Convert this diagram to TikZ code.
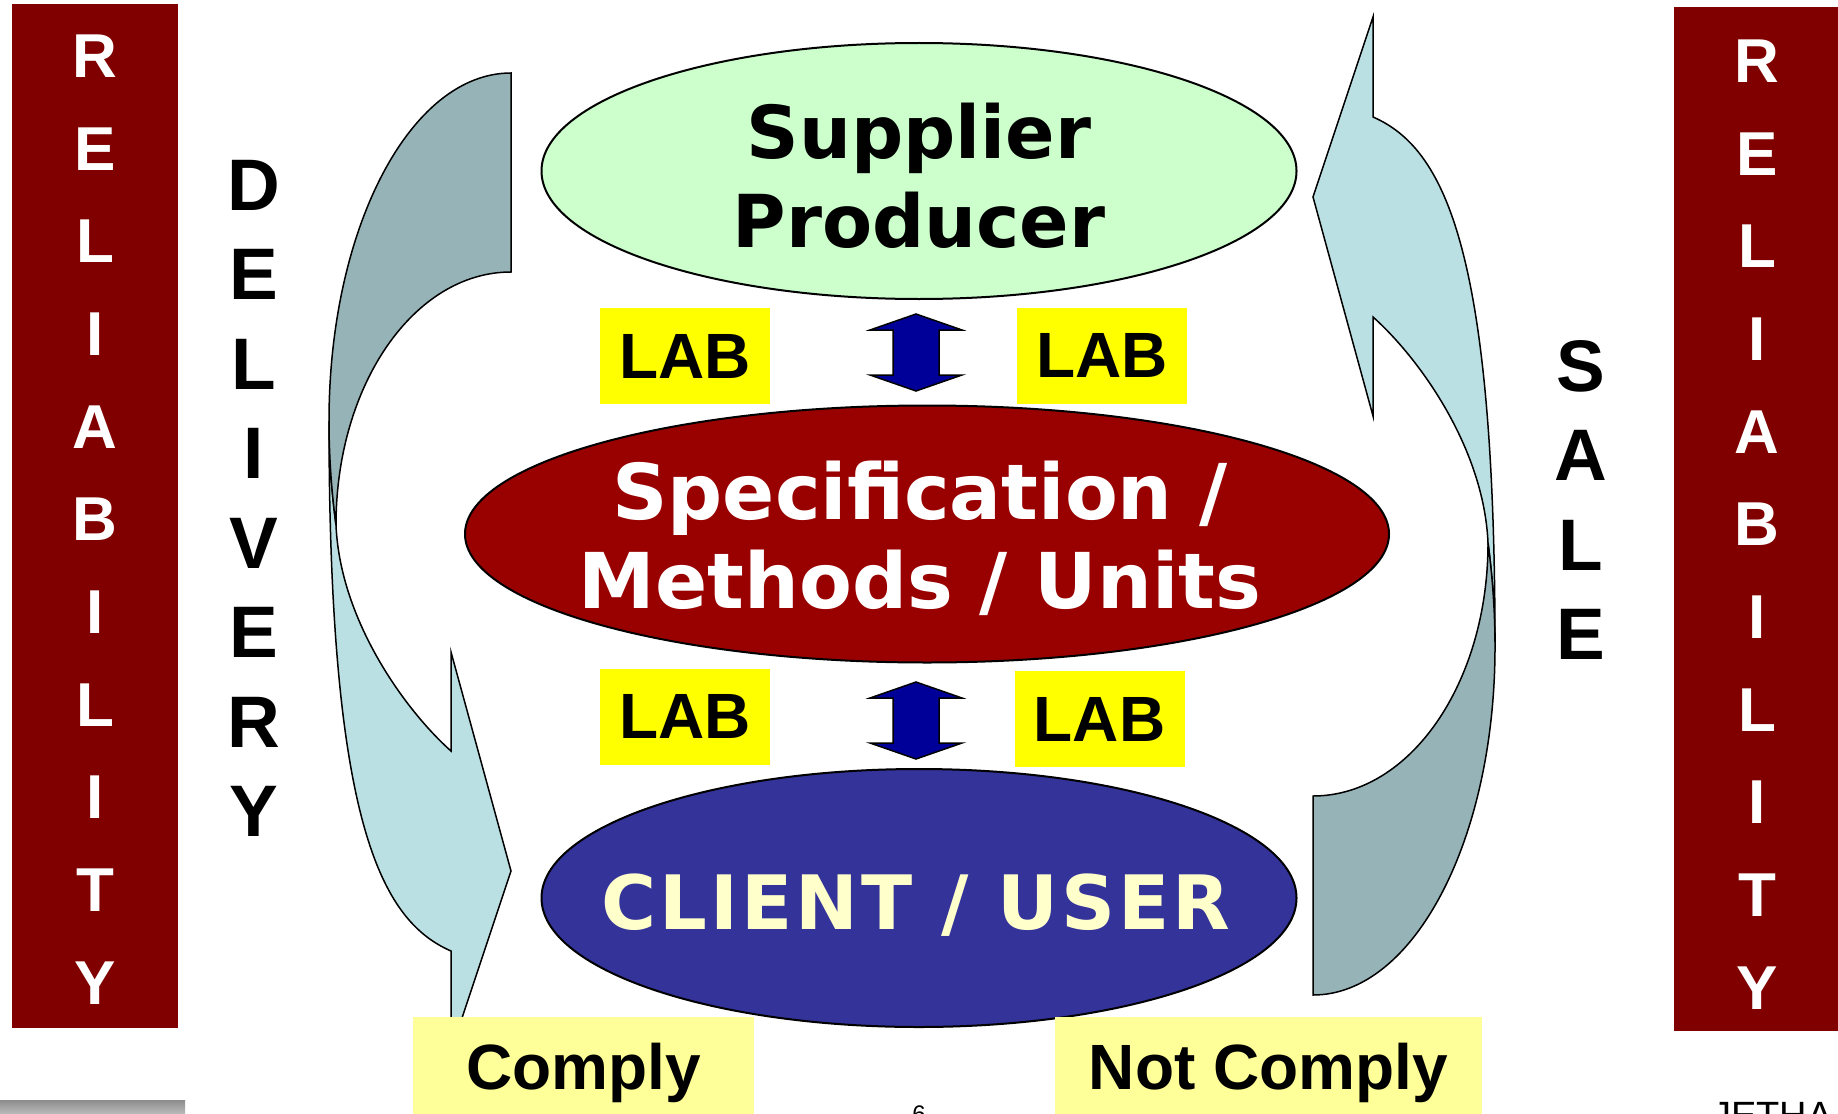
\documentclass[tikz,border=0pt]{standalone}
\usepackage{fontspec}
\setmainfont{Liberation Sans}
\newfontfamily\dvfont{DejaVu Sans}
\newfontfamily\dvspaced{DejaVu Sans}[LetterSpace=4]
\usetikzlibrary{shapes.geometric}
\definecolor{barred}{HTML}{800000}
\definecolor{specred}{HTML}{990000}
\definecolor{supgreen}{HTML}{CCFFCC}
\definecolor{clientblue}{HTML}{333399}
\definecolor{cream}{HTML}{FFFFCC}
\definecolor{labyellow}{HTML}{FFFF00}
\definecolor{complyyellow}{HTML}{FFFF99}
\definecolor{arrowblue}{HTML}{000099}
\definecolor{darkteal}{HTML}{96B3B7}
\definecolor{lightteal}{HTML}{BAE0E3}
\newcommand\cvarrowparts{%
  \draw[lightpart] (329,421) .. controls (329,820) and (380,920) .. (451,951)
    -- (451,1051) -- (511,871) -- (451,652) -- (451,751)
    .. controls (405,710) and (340,620) .. (336,525)
    .. controls (332,495) and (329,460) .. (329,421) -- cycle;
  \draw[darkpart] (511,73) .. controls (410,73) and (329,229) .. (329,421)
    .. controls (329,460) and (332,495) .. (336,525)
    .. controls (336,385) and (414,272) .. (511,272) -- cycle;
}
\newcommand\dblarrowshape{%
  \draw[dblarrow] (916,314) -- (962,330) -- (939,330) -- (939,375) -- (962,375)
    -- (916,391) -- (870,375) -- (893,375) -- (893,330) -- (870,330) -- cycle;
}
\begin{document}
\begin{tikzpicture}[x=1pt,y=-1pt,
  relletter/.style={font=\bfseries\fontsize{62}{62}\selectfont, text=white, inner sep=0pt},
  vletter/.style={font=\bfseries\fontsize{73}{73}\selectfont, text=black, inner sep=0pt},
  oval/.style={ellipse, draw=black, line width=2pt, inner sep=0pt},
  ovaltext/.style={font=\dvfont\bfseries\fontsize{77}{77}\selectfont, anchor=base, inner sep=0pt},
  labbox/.style={fill=labyellow, minimum width=170pt, minimum height=96pt, inner sep=0pt, font=\bfseries\fontsize{64}{64}\selectfont},
  complybox/.style={fill=complyyellow, minimum height=98pt, inner sep=0pt, text depth=0pt, font=\bfseries\fontsize{64}{64}\selectfont},
  lightpart/.style={fill=lightteal, draw=black, line width=1.5pt, line join=miter},
  darkpart/.style={fill=darkteal, draw=black, line width=1.5pt, line join=miter},
  dblarrow/.style={fill=arrowblue, draw=black, line width=1.5pt, line join=miter}
]
\useasboundingbox (0,0) rectangle (1838,1113);
\fill[white] (0,0) rectangle (1838,1113);

% side bars
\fill[barred] (12,4) rectangle (178,1028);
\fill[barred] (1674,7) rectangle (1838,1031);
\foreach \ch [count=\i from 0] in {R,E,L,I,A,B,I,L,I,T,Y}
  \node[relletter] (relL\i) at (95,56+92.7*\i) {\ch};
\foreach \ch [count=\i from 0] in {R,E,L,I,A,B,I,L,I,T,Y}
  \node[relletter] (relR\i) at (1757,61+92.7*\i) {\ch};

% vertical words
\foreach \ch [count=\i from 0] in {D,E,L,I,V,E,R,Y}
  \node[vletter] (del\i) at (254,185+89.5*\i) {\ch};
\foreach \ch [count=\i from 0] in {S,A,L,E}
  \node[vletter] (sale\i) at (1581,366+89.6*\i) {\ch};

% curved arrows
\begin{scope}
  \cvarrowparts
\end{scope}
\begin{scope}[shift={(1824,1068)}, xscale=-1, yscale=-1]
  \cvarrowparts
\end{scope}

% ellipses
\node[oval, fill=supgreen, minimum width=755pt, minimum height=256pt] (sup) at (919,171) {};
\node[oval, fill=specred, minimum width=924pt, minimum height=257pt] (spec) at (927,534) {};
\node[oval, fill=clientblue, minimum width=755pt, minimum height=258pt] (client) at (919,898) {};

\node[ovaltext, font=\dvfont\bfseries\fontsize{73}{73}\selectfont] (supA) at (919,158) {Supplier};
\node[ovaltext, font=\dvfont\bfseries\fontsize{73}{73}\selectfont] (supB) at (919,247) {Producer};
\node[ovaltext, text=white] (specA) at (920,519) {Specification /};
\node[ovaltext, text=white] (specB) at (920,608) {Methods / Units};
\node[ovaltext, text=cream, font=\dvspaced\bfseries\fontsize{75}{75}\selectfont] (cli) at (916,929) {CLIENT / USER};

% LAB boxes
\node[labbox] (lab1) at (685,356) {LAB};
\node[labbox] (lab2) at (1102,355.5) {LAB};
\node[labbox] (lab3) at (685,716.5) {LAB};
\node[labbox] (lab4) at (1099.5,719) {LAB};

% double arrows
\dblarrowshape
\begin{scope}[shift={(0,368)}]
  \dblarrowshape
\end{scope}

% comply boxes
\node[complybox, minimum width=341pt] (comply) at (583.5,1066) {Comply};
\node[complybox, minimum width=427pt] (notcomply) at (1268.5,1066) {Not Comply};

% footer fragments
\shade[top color=black!45, bottom color=black!28] (0,1100) rectangle (185,1113);
\node[font=\fontsize{24}{24}\selectfont, anchor=base, inner sep=0pt] (pagenum) at (919,1122) {6};
\node[font=\fontsize{38}{38}\selectfont, anchor=base west, inner sep=0pt] (logo) at (1712,1128) {JETHA};
\end{tikzpicture}
\end{document}
